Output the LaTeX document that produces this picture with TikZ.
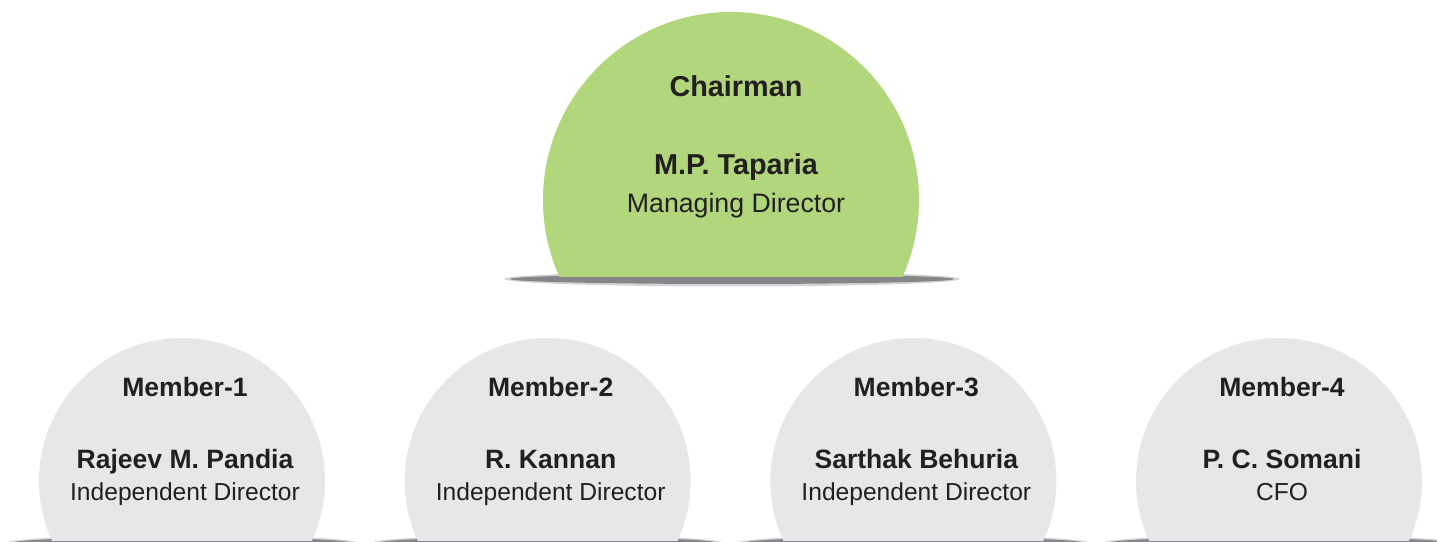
\documentclass[tikz,border=0pt]{standalone}
\usepackage{fontspec}
\setmainfont{Liberation Sans}
\definecolor{chairgreen}{RGB}{178,214,124}
\definecolor{membergray}{RGB}{230,231,232}
\definecolor{shadowgray}{RGB}{133,134,137}
\definecolor{textblack}{RGB}{35,31,32}
\begin{document}
\begin{tikzpicture}[x=0.02cm, y=0.02cm,
		softshadow/.style={fill=shadowgray, opacity=0.35},
		hardshadow/.style={fill=shadowgray},
		bigbold/.style={font=\fontsize{16.4}{19}\selectfont\bfseries, text=textblack, inner sep=0pt, anchor=base},
		bigtext/.style={font=\fontsize{15.2}{18}\selectfont, text=textblack, inner sep=0pt, anchor=base},
		smallbold/.style={font=\fontsize{15.1}{18}\selectfont\bfseries, text=textblack, inner sep=0pt, anchor=base},
		smalltext/.style={font=\fontsize{14}{17}\selectfont, text=textblack, inner sep=0pt, anchor=base}]
	% page frame
	\clip (0,0) rectangle (1437,541);

	% chairman: shadow, then cut circle
	\fill[softshadow] (732,262) ellipse (228 and 7.5);
	\fill[hardshadow] (732,262) ellipse (222 and 5);
	\begin{scope}
		\clip (500,264) rectangle (1000,541);
		\fill[chairgreen] (731,341) circle (188);
	\end{scope}
	\node[bigbold] (chair) at (736,444) {Chairman};
	\node[bigbold] (chairname) at (736,366) {M.P. Taparia};
	\node[bigtext] (chairrole) at (736,328) {Managing Director};

	% members
	\foreach \i/\nm/\role in {1/Rajeev M. Pandia/Independent Director,
			2/R. Kannan/Independent Director,
			3/Sarthak Behuria/Independent Director,
			4/P. C. Somani/CFO}{
		\pgfmathsetmacro\cx{182+365.67*(\i-1)}
		\fill[softshadow] (\cx,-2) ellipse (176 and 8);
		\fill[hardshadow] (\cx,-2) ellipse (170 and 6);
		\begin{scope}
			\clip (\cx-150,1) rectangle (\cx+150,541);
			\fill[membergray] (\cx,60) circle (143);
		\end{scope}
		\node[smallbold] (m\i title) at (\cx+3,144) {Member-\i};
		\node[smallbold] (m\i name) at (\cx+3,72) {\nm};
		\node[smalltext] (m\i role) at (\cx+3,40) {\role};
	}
\end{tikzpicture}
\end{document}
